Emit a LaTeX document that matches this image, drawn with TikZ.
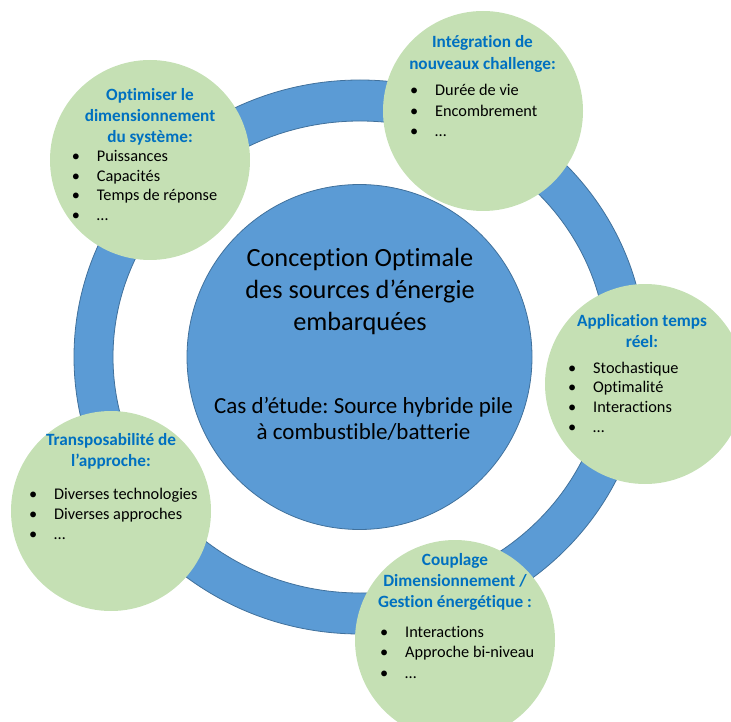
\documentclass[tikz,border=0pt]{standalone}
\usepackage{fontspec}
\setmainfont{Carlito}[Ligatures=NoCommon]
\usepackage{tikz}
\definecolor{ringblue}{HTML}{5B9BD5}
\definecolor{ringedge}{HTML}{41719C}
\definecolor{leafgreen}{HTML}{C5E0B4}
\definecolor{headblue}{HTML}{0070C0}
\newcommand{\itembullet}{\llap{•\hspace{17pt}}}
\frenchspacing

\begin{document}
\begin{tikzpicture}[x=1pt,y=-1pt,
    leaf/.style={circle,fill=leafgreen,inner sep=0,minimum size=200pt},
    head/.style={align=center,text=headblue,inner sep=0,
      font=\fontsize{17.2}{21.3}\selectfont\bfseries},
    item/.style={anchor=base west,inner sep=0,
      font=\fontsize{16.3}{19.8}\selectfont},
    blue/.style={fill=ringblue,draw=ringedge,line width=0.8pt}]
  \useasboundingbox (0,0) rectangle (731,722);
  % anneau et disque central
  \draw[blue,even odd rule] (360,357) ellipse [x radius=286,y radius=277]
                            (360,357) ellipse [x radius=247,y radius=236];
  \node[blue,circle,inner sep=0,minimum size=345pt] (core) at (359.5,357) {};
  \node[align=center,inner sep=0,font=\fontsize{26.3}{32}\selectfont] (title) at (360,291)
    {Conception Optimale\\des sources d’énergie\\embarquées};
  \node[align=center,inner sep=0,font=\fontsize{23}{26.5}\selectfont] (case) at (363.5,419)
    {Cas d’étude: Source hybride pile\\à combustible/batterie};
  % les cinq bulles
  \node[leaf] (dim) at (150,160) {};
  \node[leaf] (integ) at (483,111) {};
  \node[leaf] (rt) at (645,384) {};
  \node[leaf] (transp) at (111,511) {};
  \node[leaf] (coupl) at (455,640) {};
  % titres
  \node[head] (dim-head) at (150,117) {Optimiser le\\dimensionnement\\du système:};
  \node[head] (integ-head) at (482.5,54) {Intégration de\\nouveaux challenge:};
  \node[head] (rt-head) at (642,331) {Application temps\\réel:};
  \node[head] (transp-head) at (111,451) {Transposabilité de\\l’approche:};
  \node[head] (coupl-head) at (455,582) {Couplage\\Dimensionnement /\\Gestion énergétique :};
  % listes
  \foreach \t [count=\i] in {Puissances,Capacités,Temps de réponse,…}
    \node[item] (dim-\i) at (96.7,{162+19.5*(\i-1)}) {\itembullet\t};
  \foreach \t [count=\i] in {Durée de vie,Encombrement,…}
    \node[item] (integ-\i) at (435,{96+20.5*(\i-1)}) {\itembullet\t};
  \foreach \t [count=\i] in {Stochastique,Optimalité,Interactions,…}
    \node[item] (rt-\i) at (593,{373+19.7*(\i-1)}) {\itembullet\t};
  \foreach \t [count=\i] in {Diverses technologies,Diverses approches,…}
    \node[item] (transp-\i) at (54,{499+20*(\i-1)}) {\itembullet\t};
  \foreach \t [count=\i] in {Interactions,Approche bi-niveau,…}
    \node[item] (coupl-\i) at (405,{637+20.6*(\i-1)}) {\itembullet\t};
\end{tikzpicture}
\end{document}
